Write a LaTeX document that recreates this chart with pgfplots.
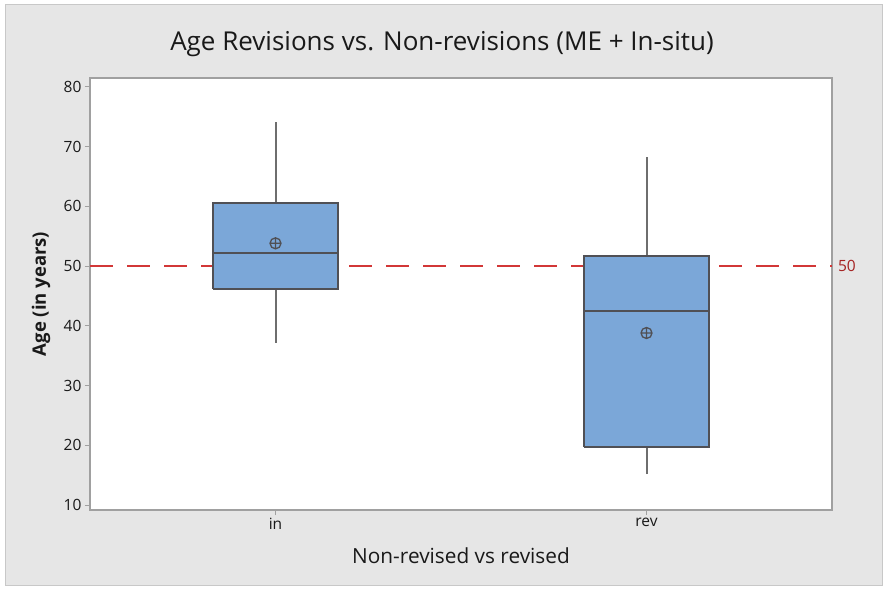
\documentclass[border=0pt]{standalone}
\usepackage{pgfplots}
\pgfplotsset{compat=1.18}
\usepackage{fontspec}
\setmainfont{Open Sans}
\definecolor{bggray}{RGB}{230,230,230}
\definecolor{framegray}{RGB}{200,200,200}
\definecolor{axgray}{RGB}{160,160,160}
\definecolor{boxfill}{RGB}{123,167,216}
\definecolor{boxedge}{RGB}{80,80,85}
\definecolor{whisk}{RGB}{110,110,110}
\definecolor{refred}{RGB}{210,55,55}
\definecolor{reftext}{RGB}{165,35,35}
\begin{document}
\begin{tikzpicture}
\path[use as bounding box, fill=white] (0pt,0pt) rectangle (886pt,590pt);
\path[fill=bggray, draw=framegray, line width=1pt] (5pt,5pt) rectangle (882pt,585pt);
\node[font=\fontsize{26}{31}\selectfont, text=black!90] at (442pt,546pt) {Age Revisions vs. Non-revisions (ME + In-situ)};
\begin{axis}[
  at={(90pt,80pt)}, anchor=south west,
  scale only axis, width=742pt, height=432pt,
  xmin=0.5, xmax=2.5, ymin=9.2, ymax=81.45,
  axis background/.style={fill=white},
  axis line style={draw=axgray, line width=1.3pt},
  xtick={1,2}, xticklabels={in,rev},
  ytick={10,20,...,80},
  tick align=outside, tick pos=left,
  major tick length=5pt,
  tick style={draw=axgray, line width=1.1pt},
  ticklabel style={font=\fontsize{15.5}{18}\selectfont, text=black!90},
  /pgf/number format/assume math mode=true,
  xlabel={Non-revised vs revised},
  ylabel={\bfseries Age (in years)},
  every axis x label/.style={at={(axis description cs:0.5,0)}, anchor=center, yshift=-46pt},
  every axis y label/.style={at={(axis description cs:0,0.5)}, anchor=center, rotate=90, yshift=49pt},
  xlabel style={font=\fontsize{20.8}{24}\selectfont, text=black!90},
  ylabel style={font=\fontsize{18.5}{22}\selectfont, text=black!90},
  clip=false,
]
% reference line
\addplot[refred, line width=1.8pt, dash pattern=on 23pt off 14pt] coordinates {(0.5,50) (2.5,50)};
% "in": whiskers
\addplot[whisk, line width=2pt] coordinates {(1,60.6) (1,74.1)};
\addplot[whisk, line width=2pt] coordinates {(1,37.2) (1,46.2)};
% "in": box (Q1 46.2, Q3 60.6)
\addplot[fill=boxfill, draw=boxedge, line width=2pt, line join=miter] coordinates {(0.8315,46.2) (1.1685,46.2) (1.1685,60.6) (0.8315,60.6) (0.8315,46.2)};
\addplot[boxedge, line width=2pt] coordinates {(0.8315,52.1) (1.1685,52.1)};
% "rev": whiskers
\addplot[whisk, line width=2pt] coordinates {(2,51.6) (2,68.2)};
\addplot[whisk, line width=2pt] coordinates {(2,15.2) (2,19.7)};
% "rev": box (Q1 19.7, Q3 51.6)
\addplot[fill=boxfill, draw=boxedge, line width=2pt, line join=miter] coordinates {(1.8315,19.7) (2.1685,19.7) (2.1685,51.6) (1.8315,51.6) (1.8315,19.7)};
\addplot[boxedge, line width=2pt] coordinates {(1.8315,42.4) (2.1685,42.4)};
% means
\addplot[only marks, mark=oplus, mark size=5.5pt, mark options={draw=boxedge, line width=1.3pt}] coordinates {(1,53.8) (2,38.8)};
\node[anchor=west, text=reftext, font=\fontsize{15.5}{18}\selectfont] at (axis cs:2.5,50) {\,50};
\end{axis}
\end{tikzpicture}
\end{document}
